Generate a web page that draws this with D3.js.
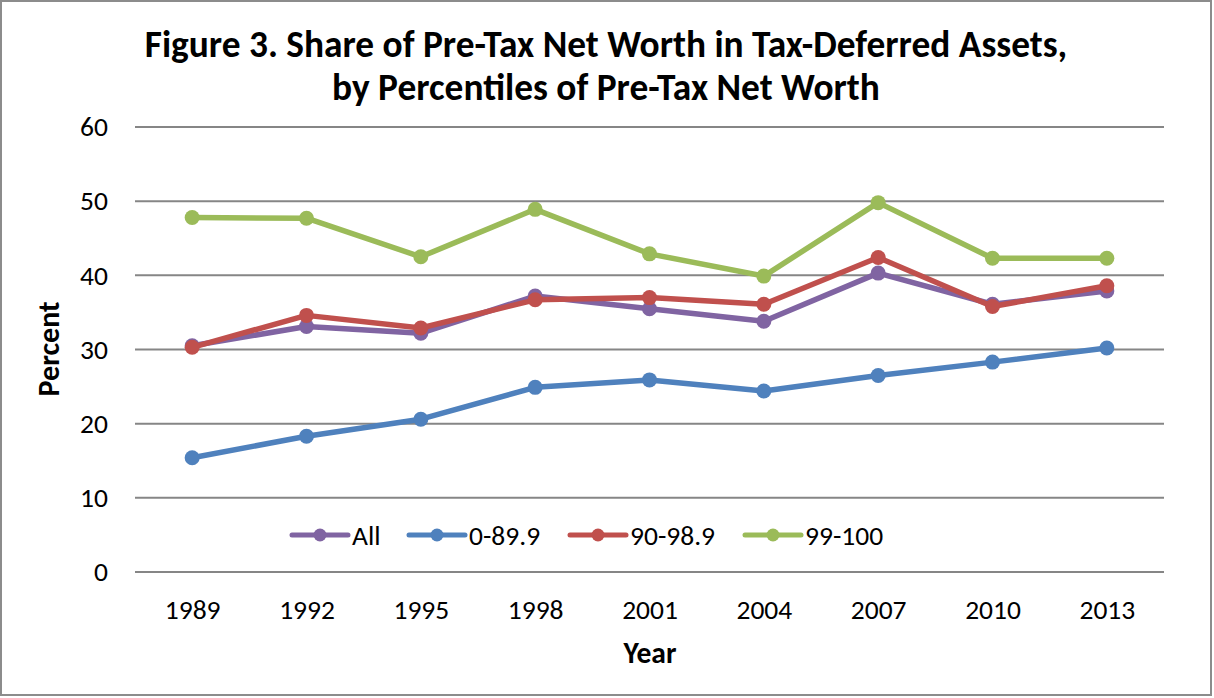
<!DOCTYPE html>
<html><head><meta charset="utf-8">
<script src="https://cdn.jsdelivr.net/npm/d3@7"></script>
<style>body{margin:0;background:#fff}svg{display:block}</style>
</head><body>
<script>
const years = ["1989","1992","1995","1998","2001","2004","2007","2010","2013"];
const seriesNames = ["All","0-89.9","90-98.9","99-100"];
const allValues = [30.5,33.1,32.2,37.2,35.5,33.8,40.3,36.1,37.9];
const p0_89 = [15.4,18.3,20.6,24.9,25.9,24.4,26.5,28.3,30.2];
const p90_98 = [30.3,34.6,32.9,36.7,37.0,36.1,42.4,35.8,38.6];
const p99_100 = [47.8,47.7,42.5,48.9,42.9,39.9,49.8,42.3,42.3];
const yTicks = [0,10,20,30,40,50,60];
const colors = ["#8064A2","#4F81BD","#C0504D","#9BBB59"];
const titleLines = ["Figure 3. Share of Pre-Tax Net Worth in Tax-Deferred Assets,","by Percentiles of Pre-Tax Net Worth"];

const seriesValues = [allValues,p0_89,p90_98,p99_100];
const W=1214,H=698;
const svg=d3.select("body").append("svg").attr("width",W).attr("height",H);
const font="Carlito, Calibri, 'Liberation Sans Narrow', 'Liberation Sans', sans-serif";
svg.append("rect").attr("x",1).attr("y",1).attr("width",W-4).attr("height",H-4)
  .attr("fill","#fff").attr("stroke","#8c8c8c").attr("stroke-width",2);

const pLeft=135,pRight=1164,pTop=127,pBottom=572;
const x=d3.scalePoint().domain(years).range([pLeft,pRight]).padding(0.5);
const y=d3.scaleLinear().domain([0,60]).range([pBottom,pTop]);

function fit(sel,target){const w=sel.node().getComputedTextLength();const fs=parseFloat(sel.attr("font-size"));sel.attr("font-size",fs*target/w);}

svg.append("g").selectAll("line").data(yTicks).join("line")
  .attr("x1",pLeft).attr("x2",pRight).attr("y1",d=>y(d)).attr("y2",d=>y(d))
  .attr("stroke","#868686").attr("stroke-width",2);

const ya=svg.append("g").attr("transform",`translate(${pLeft},0)`)
  .call(d3.axisLeft(y).tickValues(yTicks).tickSize(0).tickPadding(27));
ya.select(".domain").remove();
ya.selectAll("text").attr("font-family",font).attr("font-size",27.5).attr("fill","#000");

const xa=svg.append("g").attr("transform",`translate(0,${pBottom})`)
  .call(d3.axisBottom(x).tickSize(0).tickPadding(27));
xa.select(".domain").remove();
xa.selectAll("text").attr("font-family",font).attr("font-size",27.5).attr("fill","#000");

titleLines.forEach((t,i)=>{
  const s=svg.append("text").attr("x",606).attr("y",[57,100][i]).attr("text-anchor","middle")
   .attr("font-family",font).attr("font-weight","bold").attr("font-size",31).text(t);
  fit(s,[923,548][i]);
});
const yt=svg.append("text").attr("transform","translate(59,349) rotate(-90)").attr("text-anchor","middle")
  .attr("font-family",font).attr("font-weight","bold").attr("font-size",22).text("Percent");
fit(yt,95);
const xt=svg.append("text").attr("x",650).attr("y",663).attr("text-anchor","middle")
  .attr("font-family",font).attr("font-weight","bold").attr("font-size",22).text("Year");
fit(xt,53);

const line=d3.line().x((d,i)=>x(years[i])).y(d=>y(d));
seriesValues.forEach((vals,k)=>{
  const g=svg.append("g");
  g.append("path").attr("d",line(vals)).attr("fill","none").attr("stroke",colors[k])
    .attr("stroke-width",5.5).attr("stroke-linejoin","round");
  g.selectAll("circle").data(vals).join("circle")
    .attr("cx",(d,i)=>x(years[i])).attr("cy",d=>y(d)).attr("r",7.5).attr("fill",colors[k]);
});

const legX=[292,409,570,745], legY=535;
seriesNames.forEach((n,k)=>{
  const g=svg.append("g").attr("transform",`translate(${legX[k]},${legY})`);
  g.append("line").attr("x1",0).attr("x2",56).attr("stroke",colors[k]).attr("stroke-width",5).attr("stroke-linecap","round");
  g.append("circle").attr("cx",28).attr("r",6.5).attr("fill",colors[k]);
  g.append("text").attr("x",60).attr("y",9.5).attr("font-family",font).attr("font-size",27.5).text(n);
});
</script>
</body></html>
